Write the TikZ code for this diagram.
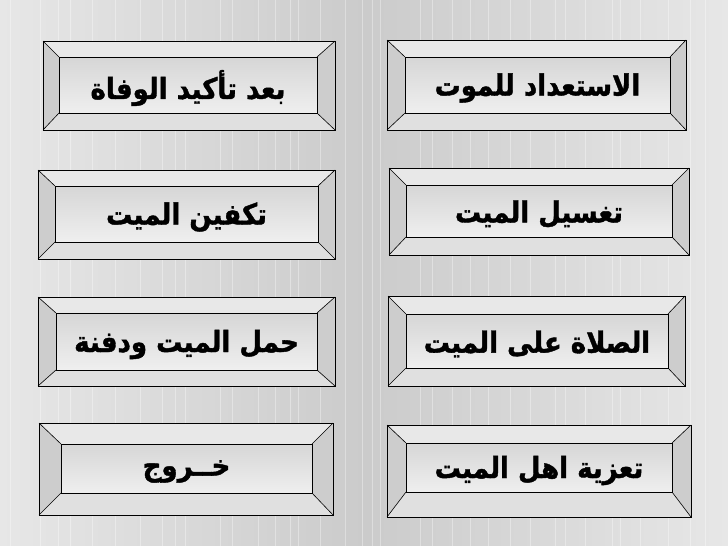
\documentclass[tikz,border=0pt]{standalone}
\usepackage{fontspec}
\usepackage{graphicx}
\usetikzlibrary{calc}
\newfontfamily\arabicfont[Script=Arabic, FakeBold=1.4]{DejaVu Sans Bold}
\TeXXeTstate=1
\definecolor{bgedge}{HTML}{E7E7E7}
\definecolor{bgmid}{HTML}{CBCBCB}
\definecolor{bevside}{HTML}{CDCDCD}
\definecolor{bevtop}{HTML}{E8E8E8}
\definecolor{bevbot}{HTML}{E0E0E0}
\definecolor{facetop}{HTML}{D6D6D6}
\definecolor{facebot}{HTML}{EFEFEF}
\tikzset{
  edge/.style={draw=black, line width=0.9pt},
  diag/.style={draw=black, line width=0.6pt},
  label/.style={font=\arabicfont\fontsize{26}{30}\selectfont, text=black, inner sep=0pt, yshift=-3pt},
}
\newcommand\mybevel[6]{%
  \coordinate (#1o1) at #2; \coordinate (#1o2) at #3;
  \coordinate (#1i1) at #4; \coordinate (#1i2) at #5;
  \fill[bevtop] (#1o1) rectangle (#1o2);
  \fill[bevside] (#1o1) -- (#1i1) -- (#1i1 |- #1i2) -- (#1o1 |- #1o2) -- cycle;
  \fill[bevside] (#1o2 |- #1o1) -- (#1i2 |- #1i1) -- (#1i2) -- (#1o2) -- cycle;
  \fill[bevbot] (#1o1 |- #1o2) -- (#1i1 |- #1i2) -- (#1i2) -- (#1o2) -- cycle;
  \shade[top color=facetop, bottom color=facebot] (#1i1) rectangle (#1i2);
  \draw[edge] (#1o1) rectangle (#1o2);
  \draw[edge] (#1i1) rectangle (#1i2);
  \draw[diag] (#1o1) -- (#1i1);
  \draw[diag] (#1o2) -- (#1i2);
  \draw[diag] (#1o1 |- #1o2) -- (#1i1 |- #1i2);
  \draw[diag] (#1o2 |- #1o1) -- (#1i2 |- #1i1);
  \node[label] (#1) at ($(#1i1)!0.5!(#1i2)$) {\scalebox{1}[1.12]{#6}};
}
\begin{document}
\begin{tikzpicture}[x=1pt,y=-1pt]
\useasboundingbox (0,0) rectangle (728,546);
\shade[left color=bgedge, right color=bgedge, middle color=bgmid] (0,0) rectangle (728,546);
\foreach \x in {10,40,58,70,92,115,140,162,175,185,220,232,258,275,290,298,320,345,362,372,380,420,432,452,470,488,510,530,555,565,585,612,620,640,668,690,705}
  \draw[white, opacity=0.35, line width=0.5pt] (\x,0) -- (\x,546);
\mybevel{a}{(43,41)}{(335,130)}{(59,57)}{(317,113)}{\beginR بعد تأكيد الوفاة\endR}
\mybevel{b}{(387,40)}{(686,130)}{(405,57)}{(670,113)}{\beginR الاستعداد للموت\endR}
\mybevel{c}{(38,170)}{(335,259)}{(55,186)}{(318,242)}{\beginR تكفين الميت\endR}
\mybevel{d}{(389,168)}{(689,255)}{(406,185)}{(672,237)}{\beginR تغسيل الميت\endR}
\mybevel{e}{(38,297)}{(335,386)}{(56,313)}{(317,370)}{\beginR حمل الميت ودفنة\endR}
\mybevel{f}{(388,296)}{(685,386)}{(406,314)}{(668,368)}{\beginR الصلاة على الميت\endR}
\mybevel{g}{(39,423)}{(333,515)}{(61,444)}{(312,493)}{\beginR خــروج\endR}
\mybevel{h}{(387,425)}{(691,517)}{(406,443)}{(672,492)}{\beginR تعزية اهل الميت\endR}
\end{tikzpicture}
\end{document}
